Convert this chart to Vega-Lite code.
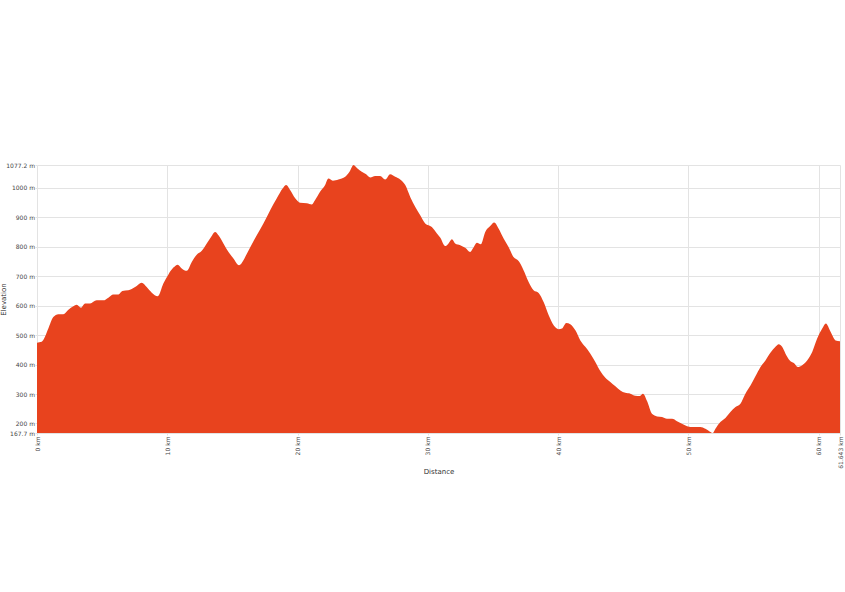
{
  "$schema": "https://vega.github.io/schema/vega-lite/v6.json",
  "autosize": {"type": "none"},
  "width": 803,
  "height": 268,
  "padding": {"left": 37, "top": 165, "right": 5, "bottom": 159},
  "background": "white",
  "config": {
    "view": {"stroke": null},
    "font": "DejaVu Sans",
    "axis": {
      "labelFont": "DejaVu Sans",
      "titleFont": "DejaVu Sans",
      "labelFontSize": 6,
      "labelColor": "#444444",
      "titleColor": "#333333",
      "titleFontSize": 7,
      "titleFontWeight": "normal",
      "gridColor": "#e3e3e3",
      "gridWidth": 1,
      "domain": false,
      "ticks": true,
      "tickSize": 2,
      "tickColor": "#e3e3e3"
    }
  },
  "data": {
    "values": [
      {"km": 0, "elev": 474}, {"km": 0.36, "elev": 477}, {"km": 0.61, "elev": 494}, {"km": 0.87, "elev": 522},
      {"km": 1.25, "elev": 561}, {"km": 1.64, "elev": 571}, {"km": 2.02, "elev": 571}, {"km": 2.41, "elev": 586},
      {"km": 2.79, "elev": 598}, {"km": 3.05, "elev": 603}, {"km": 3.38, "elev": 593}, {"km": 3.69, "elev": 607},
      {"km": 4.07, "elev": 607}, {"km": 4.58, "elev": 618}, {"km": 5.09, "elev": 618}, {"km": 5.48, "elev": 627},
      {"km": 5.86, "elev": 638}, {"km": 6.25, "elev": 638}, {"km": 6.55, "elev": 650}, {"km": 7.01, "elev": 652},
      {"km": 7.53, "elev": 663}, {"km": 8.04, "elev": 678}, {"km": 8.42, "elev": 663}, {"km": 8.81, "elev": 644},
      {"km": 9.27, "elev": 632}, {"km": 9.70, "elev": 675}, {"km": 10.09, "elev": 706}, {"km": 10.47, "elev": 729},
      {"km": 10.80, "elev": 739}, {"km": 11.11, "elev": 726}, {"km": 11.50, "elev": 718}, {"km": 11.88, "elev": 748},
      {"km": 12.26, "elev": 773}, {"km": 12.65, "elev": 786}, {"km": 13.03, "elev": 811}, {"km": 13.36, "elev": 833},
      {"km": 13.67, "elev": 850}, {"km": 13.93, "elev": 839}, {"km": 14.31, "elev": 811}, {"km": 14.70, "elev": 782},
      {"km": 15.08, "elev": 760}, {"km": 15.51, "elev": 737}, {"km": 15.85, "elev": 754}, {"km": 15.98, "elev": 765},
      {"km": 16.36, "elev": 797}, {"km": 16.87, "elev": 839}, {"km": 17.38, "elev": 879}, {"km": 17.90, "elev": 924},
      {"km": 18.41, "elev": 964}, {"km": 18.87, "elev": 998}, {"km": 19.13, "elev": 1009}, {"km": 19.43, "elev": 992},
      {"km": 19.82, "elev": 964}, {"km": 20.20, "elev": 949}, {"km": 20.71, "elev": 947}, {"km": 21.10, "elev": 943},
      {"km": 21.35, "elev": 958}, {"km": 21.73, "elev": 986}, {"km": 22.12, "elev": 1009}, {"km": 22.37, "elev": 1031},
      {"km": 22.71, "elev": 1024}, {"km": 23.14, "elev": 1028}, {"km": 23.66, "elev": 1037}, {"km": 23.99, "elev": 1054},
      {"km": 24.30, "elev": 1077.2}, {"km": 24.60, "elev": 1065}, {"km": 24.93, "elev": 1054}, {"km": 25.27, "elev": 1046},
      {"km": 25.58, "elev": 1035}, {"km": 25.96, "elev": 1040}, {"km": 26.34, "elev": 1040}, {"km": 26.73, "elev": 1028},
      {"km": 27.11, "elev": 1046}, {"km": 27.50, "elev": 1037}, {"km": 27.88, "elev": 1028}, {"km": 28.27, "elev": 1009},
      {"km": 28.65, "elev": 969}, {"km": 29.04, "elev": 935}, {"km": 29.42, "elev": 907}, {"km": 29.80, "elev": 879},
      {"km": 30.31, "elev": 867}, {"km": 30.70, "elev": 845}, {"km": 30.95, "elev": 831}, {"km": 31.34, "elev": 802},
      {"km": 31.59, "elev": 811}, {"km": 31.85, "elev": 825}, {"km": 32.10, "elev": 811}, {"km": 32.49, "elev": 805},
      {"km": 32.87, "elev": 796}, {"km": 33.25, "elev": 782}, {"km": 33.51, "elev": 797}, {"km": 33.77, "elev": 813},
      {"km": 34.07, "elev": 808}, {"km": 34.41, "elev": 850}, {"km": 34.79, "elev": 870}, {"km": 35.10, "elev": 882},
      {"km": 35.43, "elev": 862}, {"km": 35.82, "elev": 828}, {"km": 36.20, "elev": 799}, {"km": 36.58, "elev": 765},
      {"km": 36.97, "elev": 751}, {"km": 37.35, "elev": 720}, {"km": 37.74, "elev": 680}, {"km": 38.12, "elev": 652},
      {"km": 38.51, "elev": 643}, {"km": 38.89, "elev": 612}, {"km": 39.28, "elev": 567}, {"km": 39.66, "elev": 533},
      {"km": 40.04, "elev": 520}, {"km": 40.30, "elev": 522}, {"km": 40.63, "elev": 541}, {"km": 40.94, "elev": 537},
      {"km": 41.33, "elev": 516}, {"km": 41.71, "elev": 482}, {"km": 42.09, "elev": 460}, {"km": 42.48, "elev": 437},
      {"km": 42.86, "elev": 409}, {"km": 43.24, "elev": 378}, {"km": 43.63, "elev": 355}, {"km": 44.01, "elev": 341},
      {"km": 44.40, "elev": 326}, {"km": 44.78, "elev": 312}, {"km": 45.16, "elev": 304}, {"km": 45.55, "elev": 301},
      {"km": 45.93, "elev": 294}, {"km": 46.26, "elev": 293}, {"km": 46.52, "elev": 301}, {"km": 46.83, "elev": 276},
      {"km": 47.21, "elev": 233}, {"km": 47.60, "elev": 224}, {"km": 47.98, "elev": 222}, {"km": 48.36, "elev": 216},
      {"km": 48.75, "elev": 216}, {"km": 49.13, "elev": 208}, {"km": 49.51, "elev": 199}, {"km": 49.90, "elev": 191},
      {"km": 50.41, "elev": 188}, {"km": 50.92, "elev": 188}, {"km": 51.31, "elev": 182}, {"km": 51.70, "elev": 171},
      {"km": 51.88, "elev": 167.7}, {"km": 52.08, "elev": 182}, {"km": 52.46, "elev": 205}, {"km": 52.85, "elev": 219},
      {"km": 53.23, "elev": 239}, {"km": 53.62, "elev": 256}, {"km": 54.00, "elev": 267}, {"km": 54.38, "elev": 301},
      {"km": 54.77, "elev": 329}, {"km": 55.15, "elev": 360}, {"km": 55.54, "elev": 392}, {"km": 55.92, "elev": 414},
      {"km": 56.30, "elev": 440}, {"km": 56.69, "elev": 460}, {"km": 56.94, "elev": 469}, {"km": 57.20, "elev": 460},
      {"km": 57.46, "elev": 437}, {"km": 57.79, "elev": 414}, {"km": 58.10, "elev": 405}, {"km": 58.40, "elev": 392},
      {"km": 58.74, "elev": 398}, {"km": 59.12, "elev": 414}, {"km": 59.51, "elev": 443}, {"km": 59.89, "elev": 488},
      {"km": 60.28, "elev": 522}, {"km": 60.56, "elev": 539}, {"km": 60.92, "elev": 511}, {"km": 61.30, "elev": 482},
      {"km": 61.643, "elev": 479}
    ]
  },
  "mark": {"type": "area", "color": "#E8431E", "interpolate": "monotone", "opacity": 1, "clip": true},
  "encoding": {
    "x": {
      "field": "km",
      "type": "quantitative",
      "title": "Distance",
      "scale": {"domain": [0, 61.643], "nice": false, "zero": false},
      "axis": {
        "values": [0, 10, 20, 30, 40, 50, 60, 61.643],
        "labelExpr": "datum.value + ' km'",
        "labelAngle": -90,
        "labelPadding": 1,
        "titleY": 38,
        "titleBaseline": "middle",
        "labelFlush": false,
        "labelOverlap": false
      }
    },
    "y": {
      "field": "elev",
      "type": "quantitative",
      "title": "Elevation",
      "scale": {"domain": [167.7, 1077.2], "nice": false, "zero": false},
      "axis": {
        "values": [167.7, 200, 300, 400, 500, 600, 700, 800, 900, 1000, 1077.2],
        "labelExpr": "datum.value + ' m'",
        "labelPadding": 0.5,
        "titleX": -31.5,
        "titleBaseline": "alphabetic",
        "labelFlush": false,
        "labelOverlap": false
      }
    }
  }
}
